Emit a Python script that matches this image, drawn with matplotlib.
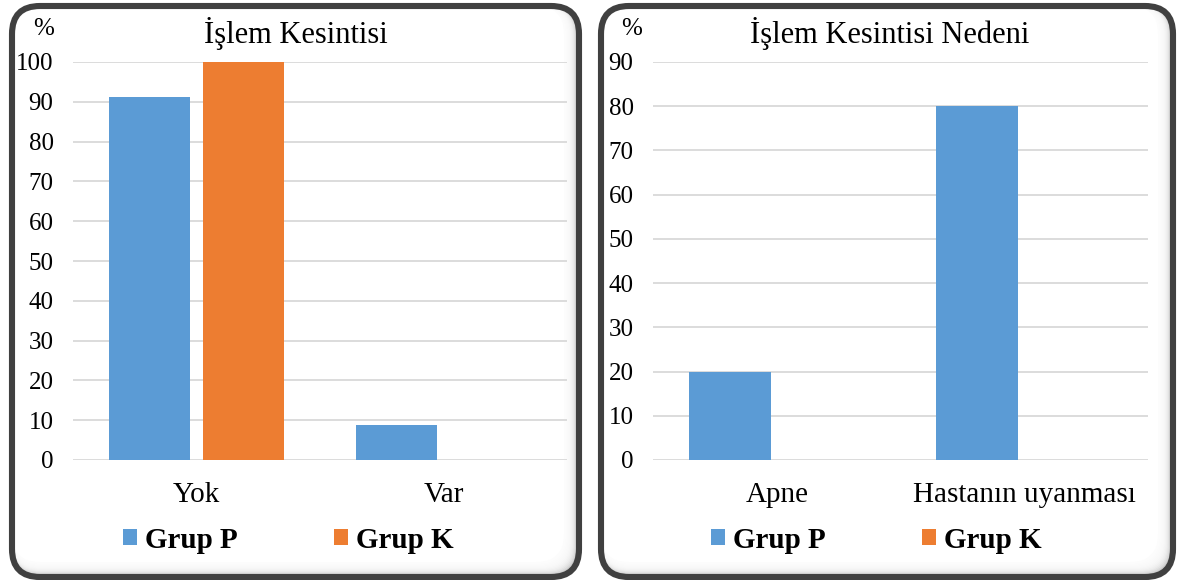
import matplotlib
matplotlib.use("Agg")
import matplotlib.pyplot as plt
from matplotlib.patches import FancyBboxPatch, Patch

# ---- data ----
left_title = "İşlem Kesintisi"
left_categories = ["Yok", "Var"]
left_grup_p = [91.3, 8.7]
left_grup_k = [100.0, 0.0]
left_ticks = list(range(0, 101, 10))

right_title = "İşlem Kesintisi Nedeni"
right_categories = ["Apne", "Hastanın uyanması"]
right_grup_p = [20.0, 80.0]
right_grup_k = [0.0, 0.0]
right_ticks = list(range(0, 91, 10))

series_names = ["Grup P", "Grup K"]
colors = ["#5B9BD5", "#ED7D31"]

W, H = 1181, 580
FONT = "Liberation Serif"
plt.rcParams["font.family"] = [FONT, "DejaVu Serif"]

fig = plt.figure(figsize=(W / 100, H / 100), dpi=100)

# background layer in pixel coordinates (y downward)
bg = fig.add_axes([0, 0, 1, 1], zorder=-10)
bg.set_xlim(0, W)
bg.set_ylim(H, 0)
bg.axis("off")


def panel(x0, y0, x1, y1):
    r = 28
    # grey base that stays visible as an inner shadow along right/bottom
    bg.add_patch(FancyBboxPatch((x0, y0), x1 - x0, y1 - y0,
                                boxstyle=f"round,pad=0,rounding_size={r}",
                                fc="#9a9a9a", ec="none"))
    for k in range(1, 15):
        bg.add_patch(FancyBboxPatch((x0, y0), x1 - x0 - k, y1 - y0 - k,
                                    boxstyle=f"round,pad=0,rounding_size={r}",
                                    fc="white", ec="none", alpha=0.28))
    bg.add_patch(FancyBboxPatch((x0, y0), x1 - x0 - 15, y1 - y0 - 15,
                                boxstyle=f"round,pad=0,rounding_size={r}",
                                fc="white", ec="none"))
    bg.add_patch(FancyBboxPatch((x0, y0), x1 - x0, y1 - y0,
                                boxstyle=f"round,pad=0,rounding_size={r}",
                                fc="none", ec="#404040", lw=4.4))


panel(12, 6, 579, 577)
panel(601, 6, 1173, 577)


def chart(px0, px1, ptop, pbot, cats, p_vals, k_vals, ticks, title,
          title_cx, pct_x, legend_cx):
    ax = fig.add_axes([px0 / W, (H - pbot) / H, (px1 - px0) / W, (pbot - ptop) / H])
    x = list(range(len(cats)))
    bw = 0.33
    off = 0.19
    ax.bar([i - off for i in x], p_vals, width=bw, color=colors[0], zorder=3)
    ax.bar([i + off for i in x], k_vals, width=bw, color=colors[1], zorder=3)
    ax.set_xlim(-0.5, len(cats) - 0.5)
    ax.set_ylim(ticks[0], ticks[-1])
    ax.set_yticks(ticks)
    ax.set_yticklabels([str(t) for t in ticks], fontsize=18, family=FONT)
    ax.set_xticks(x)
    ax.set_xticklabels(cats, fontsize=21, family=FONT)
    ax.tick_params(axis="y", length=0, pad=14)
    ax.tick_params(axis="x", length=0, pad=16)
    ax.grid(axis="y", color="#D9D9D9", lw=1.3, zorder=0)
    ax.set_axisbelow(True)
    for s in ax.spines.values():
        s.set_visible(False)
    ax.patch.set_alpha(0)

    bg.text(title_cx, 34, title, fontsize=22, family=FONT, ha="center", va="center")
    bg.text(pct_x, 29, "%", fontsize=18, family=FONT, ha="center", va="center")

    handles = [Patch(fc=colors[0], ec="none"), Patch(fc=colors[1], ec="none")]
    ax.legend(handles, series_names, loc="center", ncol=2, frameon=False,
              bbox_to_anchor=((legend_cx - px0) / (px1 - px0),
                              (pbot - 540) / (pbot - ptop)),
              prop={"family": FONT, "weight": "bold", "size": 21},
              handlelength=0.5, handleheight=0.5, handletextpad=0.25,
              columnspacing=3.3)
    return ax


chart(73, 567, 62, 460, left_categories, left_grup_p, left_grup_k, left_ticks,
      left_title, 296, 44, 288)
chart(653, 1148, 62, 460, right_categories, right_grup_p, right_grup_k, right_ticks,
      right_title, 890, 632, 876)

fig.savefig("out.png", dpi=100)
